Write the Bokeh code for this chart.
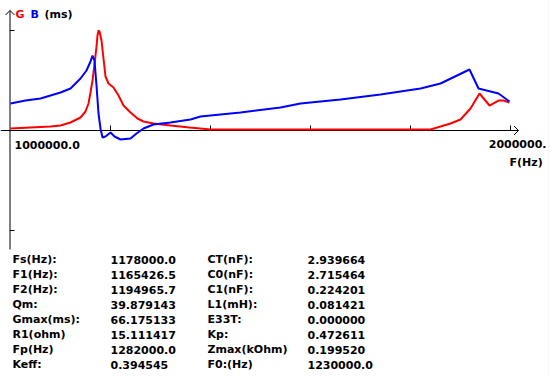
from bokeh.plotting import figure
from bokeh.models import Label, Range1d
from bokeh.embed import file_html
from bokeh.resources import INLINE

# ---- data (frequency in Hz, conductance / susceptance in mS) ----
gmax = 66.175133
g_freq = [1000000, 1040000, 1080000, 1100000, 1120000, 1140000, 1150000, 1156000,
          1160000, 1164000, 1168000, 1172000, 1174000, 1176000, 1178000, 1182000,
          1186000, 1190000, 1196000, 1206000, 1216000, 1226000, 1240000, 1254000,
          1266000, 1286000, 1320000, 1358000, 1400000, 1840000, 1860000, 1880000,
          1900000, 1920000, 1938000, 1958000, 1976000, 1986000, 1998000]
g_vals = [1.32, 1.99, 2.65, 3.31, 5.29, 8.60, 12.57, 17.87,
          25.15, 33.09, 43.68, 55.59, 62.87, 66.18, 65.51, 59.56,
          47.65, 35.73, 31.10, 28.46, 23.16, 16.54, 11.91, 7.94,
          5.96, 4.63, 3.31, 1.99, 0.66, 0.66, 2.65, 4.63,
          7.28, 14.56, 24.48, 16.54, 19.85, 19.85, 18.53]
b_freq = [1000000, 1030000, 1060000, 1080000, 1100000, 1120000, 1140000, 1152000,
          1160000, 1164000, 1168000, 1172000, 1176000, 1180000, 1184000, 1190000,
          1200000, 1208000, 1220000, 1240000, 1252000, 1266000, 1286000, 1320000,
          1360000, 1380000, 1460000, 1540000, 1580000, 1660000, 1740000, 1820000,
          1860000, 1918000, 1936000, 1960000, 1976000, 1998000]
b_vals = [17.87, 19.85, 21.18, 23.16, 25.15, 27.79, 34.41, 39.71,
          45.66, 49.63, 46.32, 29.78, 11.25, 1.32, -4.63, -3.97,
          -1.32, -3.97, -5.96, -5.29, -1.99, 1.32, 3.97, 5.29,
          7.28, 9.26, 11.91, 15.22, 17.87, 20.51, 23.82, 27.79,
          31.10, 40.37, 27.79, 25.81, 24.48, 19.19]
x_ticks = [1200000, 1400000, 1600000, 1800000, 2000000]
y_ticks = [gmax, -gmax]

labels1 = ["Fs(Hz):", "F1(Hz):", "F2(Hz):", "Qm:", "Gmax(ms):", "R1(ohm)", "Fp(Hz)", "Keff:"]
values1 = ["1178000.0", "1165426.5", "1194965.7", "39.879143", "66.175133", "15.111417", "1282000.0", "0.394545"]
labels2 = ["CT(nF):", "C0(nF):", "C1(nF):", "L1(mH):", "E33T:", "Kp:", "Zmax(kOhm)", "F0:(Hz)"]
values2 = ["2.939664", "2.715464", "0.224201", "0.081421", "0.000000", "0.472611", "0.199520", "1230000.0"]

# ---- layout constants ----
W, H = 549, 375
HZ_PER_PX = 2000.0
MS_PER_PX = gmax / 100.0
X0_PX = 10     # screen px of 1 MHz
Y0_PX = 130    # screen px (from top) of zero
TXT_DY = 4     # text baseline correction

def px_x(px):
    return 1000000 + (px - X0_PX) * HZ_PER_PX

def px_y(py):
    return (Y0_PX - py) * MS_PER_PX

p = figure(width=W, height=H, output_backend="svg", toolbar_location=None,
           x_range=Range1d(px_x(0), px_x(W)), y_range=Range1d(px_y(H), px_y(0)),
           min_border_left=0, min_border_top=0, min_border_bottom=0, min_border_right=0,
           border_fill_color="white", background_fill_color="white",
           outline_line_color=None)
p.axis.visible = False
p.grid.visible = False

FONT = "DejaVu Sans"

# light grey strip at the right edge
p.quad(left=[px_x(548)], right=[px_x(W + 10)], bottom=[px_y(H + 10)], top=[px_y(-10)],
       fill_color="#F0F0F0", line_color=None)

# axes (drawn manually, crossing at zero)
ax_col = "black"
yax_x = px_x(9.5)
p.line([px_x(0), px_x(518)], [0, 0], line_color=ax_col, line_width=1)
p.line([px_x(513.5), px_x(518), px_x(513.5)], [px_y(125.5), 0, px_y(134.5)], line_color=ax_col, line_width=1)
p.line([yax_x, yax_x], [px_y(10), px_y(249)], line_color=ax_col, line_width=1)
p.line([px_x(5), yax_x, px_x(14)], [px_y(14.5), px_y(10), px_y(14.5)], line_color=ax_col, line_width=1)
p.segment(x0=x_ticks, y0=[0] * len(x_ticks), x1=x_ticks, y1=[5 * MS_PER_PX] * len(x_ticks),
          line_color=ax_col, line_width=1)
p.segment(x0=[yax_x] * 2, y0=y_ticks, x1=[px_x(14)] * 2, y1=y_ticks, line_color=ax_col, line_width=1)

# curves
p.line(g_freq, g_vals, line_color="#FF0000", line_width=2)
p.line(b_freq, b_vals, line_color="#0000FF", line_width=2)

def lab(text, rx, rbase, color="black", align="left"):
    p.add_layout(Label(x=rx, y=H - rbase + TXT_DY, x_units="screen", y_units="screen",
                       text=text, text_font=FONT, text_font_style="bold",
                       text_font_size="11px", text_color=color, text_align=align,
                       text_baseline="alphabetic"))

lab("G", 15, 18, "#FF0000")
lab("B", 30, 18, "#0000FF")
lab("(ms)", 44, 18)
lab("1000000.0", 14, 148)
lab("2000000.", 546, 147, align="right")
lab("F(Hz)", 509, 166)

for i in range(8):
    yb = 263 + 15 * i
    lab(labels1[i], 12, yb)
    lab(values1[i], 110, yb)
    lab(labels2[i], 207, yb)
    lab(values2[i], 307, yb)

open("out.html", "w").write(file_html(p, INLINE))
